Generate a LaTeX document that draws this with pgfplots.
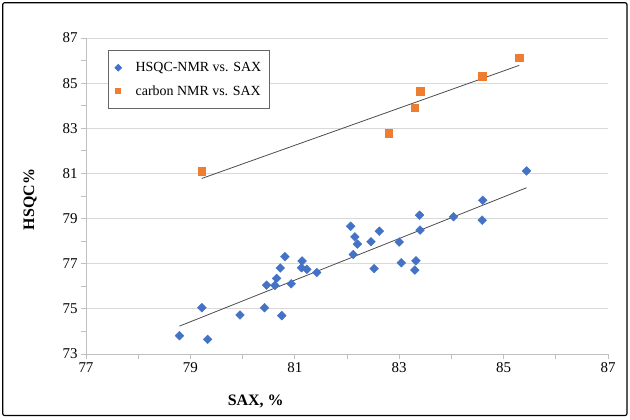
\documentclass[border=0pt]{standalone}
\usepackage{pgfplots}
\usepackage{pgfplotstable}
\pgfplotsset{compat=1.18}
\usepackage{fontspec}
\setmainfont{Liberation Serif}
\definecolor{xlblue}{HTML}{4472C4}
\definecolor{xlorange}{HTML}{ED7D31}
\definecolor{gridgray}{HTML}{D9D9D9}
\definecolor{axgray}{HTML}{BFBFBF}

\pgfplotstableread{
x y
78.79 73.81
79.22 75.05
79.33 73.65
79.95 74.73
80.42 75.05
80.46 76.05
80.62 76.04
80.65 76.35
80.72 76.81
80.75 74.70
80.81 77.31
80.93 76.11
81.13 76.82
81.14 77.12
81.23 76.75
81.42 76.61
82.07 78.66
82.12 77.41
82.15 78.19
82.20 77.87
82.46 77.97
82.52 76.78
82.62 78.44
83.00 77.96
83.04 77.04
83.30 76.72
83.32 77.13
83.39 79.15
83.40 78.49
84.04 79.08
84.59 78.93
84.60 79.81
85.44 81.11
}\hsqc

\pgfplotstableread{
x y
79.22 81.10
82.80 82.79
83.30 83.92
83.40 84.65
84.59 85.30
85.30 86.13
}\carbon

\begin{document}
\begin{tikzpicture}
\path[use as bounding box] (-86bp,-66bp) rectangle (544bp,354bp);
\draw[black, line width=1.2bp, rounded corners=2bp] (-83.3bp,-61.5bp) rectangle (541bp,351.3bp);
\begin{axis}[
  at={(0,0)}, anchor=south west,
  scale only axis, width=522bp, height=316bp,
  xmin=77, xmax=87, ymin=73, ymax=87,
  xtick={77,79,...,87}, ytick={73,75,...,87},
  minor xtick={78,80,...,86}, minor ytick={74,76,...,86},
  axis x line*=bottom, axis y line*=left,
  axis line style={axgray, -, line width=0.8bp},
  tick align=outside, major tick length=5bp, minor tick length=5bp,
  tick style={axgray, line width=0.8bp},
  ymajorgrids, grid style={gridgray, line width=0.8bp},
  tick label style={font=\fontsize{15}{18}\selectfont},
  /pgf/number format/assume math mode=true,
  xlabel={\textbf{SAX, \%}},
  ylabel={\textbf{HSQC\%}},
  label style={font=\fontsize{16}{19}\selectfont},
  xlabel style={at={(axis description cs:0.325,-0.151)}, anchor=center},
  ylabel style={at={(axis description cs:-0.107,0.489)}, anchor=center},
  legend style={at={(axis description cs:0.043,0.962)}, anchor=north west,
    draw=black!60, line width=0.8bp, font=\fontsize{14}{17}\selectfont,
    row sep=8.5bp, column sep=12bp, inner xsep=6bp, inner ysep=10bp},
  legend cell align=left,
  legend image post style={mark size=2.4bp},
]
\addplot[only marks, mark=square*, mark size=3.1bp, mark options={rotate=45, xlblue, draw=xlblue}] table[x=x,y=y] {\hsqc};
\addlegendentry{HSQC-NMR vs. SAX}
\addplot[only marks, mark=square*, mark size=3.7bp, mark options={xlorange, draw=xlorange}] table[x=x,y=y] {\carbon};
\addlegendentry{carbon NMR vs. SAX}
\addplot[black!70, line width=0.8bp, forget plot] table[x=x, y={create col/linear regression={y=y}}] {\hsqc};
\addplot[black!70, line width=0.8bp, forget plot] table[x=x, y={create col/linear regression={y=y}}] {\carbon};
\end{axis}
\end{tikzpicture}
\end{document}
